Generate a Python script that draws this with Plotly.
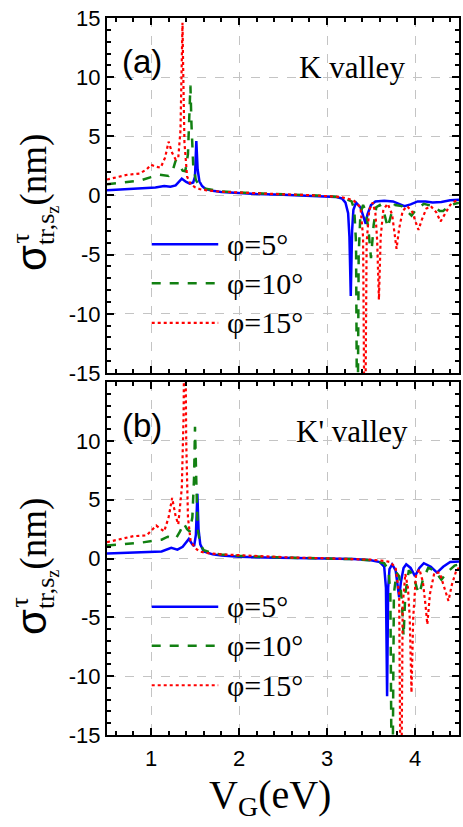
import plotly.graph_objects as go
from plotly.subplots import make_subplots

# ---- K valley (panel a) ----
ka_x5 = [0.5, 0.7, 0.9, 1.05, 1.15, 1.22, 1.28, 1.35, 1.40, 1.44, 1.48, 1.50, 1.515, 1.53, 1.55, 1.58,
         1.62, 1.7, 1.8, 2.0, 2.2, 2.5, 2.8, 3.0, 3.1, 3.17, 3.21, 3.24, 3.255, 3.27, 3.285, 3.30, 3.33,
         3.38, 3.42, 3.44, 3.46, 3.50, 3.55, 3.65, 3.75, 3.82, 3.88, 3.95, 4.03, 4.12, 4.2, 4.3, 4.4, 4.5]
ka_y5 = [0.45, 0.52, 0.6, 0.68, 0.8, 0.75, 0.85, 1.42, 1.15, 1.0, 1.1, 1.6, 4.6, 2.2, 1.2, 0.8,
         0.55, 0.4, 0.3, 0.2, 0.13, 0.07, 0.0, -0.05, -0.12, -0.25, -0.6, -1.5, -3.5, -8.5, -3.0, -1.2, -0.6,
         -1.0, -1.9, -2.4, -1.6, -0.8, -0.5, -0.45, -0.5, -0.7, -0.9, -0.75, -0.5, -0.5, -0.6, -0.55, -0.4, -0.35]

ka_x10 = [0.5, 0.7, 0.87, 1.0, 1.1, 1.2, 1.25, 1.28, 1.32, 1.36, 1.39, 1.42, 1.44, 1.448, 1.46, 1.48,
          1.51, 1.55, 1.6, 1.7, 1.8, 2.0, 2.2, 2.5, 2.8, 3.0, 3.1, 3.2, 3.28, 3.31, 3.33, 3.345, 3.36,
          3.38, 3.41, 3.44, 3.47, 3.50, 3.53, 3.56, 3.6, 3.65, 3.69, 3.73, 3.77, 3.85, 3.92, 3.96, 4.0,
          4.1, 4.2, 4.28, 4.32, 4.4, 4.5]
ka_y10 = [0.95, 1.1, 1.25, 1.55, 1.75, 1.65, 2.2, 2.95, 2.6, 2.1, 2.05, 3.5, 7.0, 9.3, 6.0, 2.5,
          1.3, 0.85, 0.6, 0.45, 0.35, 0.25, 0.17, 0.1, 0.03, -0.03, -0.1, -0.25, -0.5, -1.2, -4.0, -25.0, -5.0,
          -1.5, -0.8, -1.3, -2.8, -5.3, -2.5, -1.0, -0.8, -1.5, -2.7, -1.6, -0.8, -0.9, -1.4, -1.7, -1.3,
          -0.7, -0.9, -1.3, -1.3, -0.8, -0.6]

ka_x15 = [0.5, 0.6, 0.73, 0.87, 0.95, 1.0, 1.05, 1.11, 1.16, 1.2, 1.24, 1.28, 1.31, 1.335, 1.35, 1.358,
          1.365, 1.38, 1.41, 1.45, 1.5, 1.55, 1.65, 1.8, 2.0, 2.2, 2.5, 2.8, 3.0, 3.15, 3.25, 3.3, 3.38,
          3.41, 3.43, 3.45, 3.48, 3.52, 3.55, 3.57, 3.59, 3.61, 3.64, 3.69, 3.74, 3.77, 3.79, 3.82, 3.86,
          3.91, 3.97, 4.01, 4.04, 4.08, 4.13, 4.18, 4.24, 4.29, 4.34, 4.4, 4.45, 4.5]
ka_y15 = [1.35, 1.5, 1.75, 1.85, 2.2, 2.6, 2.45, 2.35, 3.2, 4.55, 3.6, 3.05, 3.2, 5.5, 11.0, 14.6,
          11.0, 4.5, 1.6, 0.95, 0.7, 0.55, 0.42, 0.32, 0.25, 0.17, 0.1, 0.03, -0.03, -0.12, -0.3, -0.4, -1.0,
          -3.5, -25.0, -4.0, -1.2, -0.6, -1.5, -3.8, -8.8, -3.5, -1.2, -0.7, -1.6, -3.2, -4.5, -2.8, -1.3,
          -0.9, -1.4, -2.3, -2.9, -2.0, -1.1, -0.9, -1.4, -2.2, -1.6, -0.8, -0.5, -0.4]

# ---- K' valley (panel b) ----
kb_x5 = [0.5, 0.8, 1.12, 1.23, 1.3, 1.36, 1.43, 1.47, 1.49, 1.51, 1.527, 1.54, 1.56, 1.6, 1.7, 1.8,
         2.0, 2.3, 2.6, 3.0, 3.3, 3.5, 3.6, 3.65, 3.67, 3.683, 3.695, 3.71, 3.74, 3.78, 3.81, 3.82, 3.84,
         3.87, 3.9, 3.95, 4.0, 4.05, 4.1, 4.18, 4.25, 4.32, 4.4, 4.5]
kb_y5 = [0.42, 0.5, 0.6, 0.9, 0.75, 1.0, 1.67, 1.2, 1.05, 2.0, 5.5, 2.5, 1.2, 0.6, 0.35, 0.25,
         0.15, 0.08, 0.04, 0.0, -0.05, -0.15, -0.3, -0.7, -2.5, -11.7, -2.5, -0.9, -0.5, -1.0, -2.5, -3.3, -2.0,
         -0.8, -0.5, -0.8, -1.5, -0.8, -0.4, -0.7, -1.2, -0.7, -0.3, -0.25]

kb_x10 = [0.5, 0.87, 1.12, 1.19, 1.28, 1.33, 1.37, 1.41, 1.44, 1.47, 1.49, 1.50, 1.515, 1.53, 1.56, 1.6,
          1.7, 1.8, 2.0, 2.3, 2.6, 3.0, 3.3, 3.5, 3.65, 3.7, 3.72, 3.74, 3.76, 3.79, 3.82, 3.85, 3.87,
          3.89, 3.93, 3.98, 4.02, 4.05, 4.09, 4.15, 4.22, 4.3, 4.36, 4.45, 4.5]
kb_y10 = [1.1, 1.33, 1.6, 1.85, 1.67, 2.3, 3.0, 2.5, 2.3, 3.5, 7.0, 11.2, 6.5, 2.5, 1.2, 0.7,
          0.45, 0.35, 0.22, 0.12, 0.06, 0.0, -0.05, -0.15, -0.4, -1.0, -3.0, -25.0, -3.0, -1.2, -1.5, -3.5, -6.6,
          -3.0, -1.0, -1.4, -2.5, -3.0, -1.8, -0.8, -1.0, -1.8, -1.2, -0.6, -0.5]

kb_x15 = [0.5, 0.8, 0.95, 1.06, 1.15, 1.2, 1.24, 1.28, 1.31, 1.35, 1.37, 1.385, 1.40, 1.42, 1.45, 1.5,
          1.55, 1.65, 1.8, 2.0, 2.3, 2.6, 3.0, 3.3, 3.5, 3.65, 3.72, 3.78, 3.82, 3.84, 3.86, 3.89, 3.92,
          3.94, 3.96, 3.98, 4.01, 4.05, 4.09, 4.12, 4.14, 4.17, 4.22, 4.28, 4.34, 4.38, 4.42, 4.47, 4.5]
kb_y15 = [1.39, 1.9, 1.96, 2.8, 2.3, 3.5, 5.15, 3.6, 2.9, 6.0, 12.0, 25.0, 10.0, 3.5, 1.5, 0.9,
          0.6, 0.45, 0.35, 0.27, 0.15, 0.08, 0.02, -0.03, -0.1, -0.2, -0.3, -0.8, -3.0, -25.0, -4.0, -1.3, -2.5,
          -5.0, -11.4, -5.0, -1.5, -0.9, -2.0, -4.0, -5.6, -3.0, -1.2, -1.2, -2.6, -3.6, -2.2, -1.0, -0.8]

series_names = ["φ=5°", "φ=10°", "φ=15°"]
series_colors = ["#0000ff", "#128012", "#ff0000"]
series_dash = ["solid", "dash", "dot"]
series_width = [2.5, 2.5, 2.2]

ya_ticks = [-15, -10, -5, 0, 5, 10, 15]
ya_ticktext = ["-15", "-10", "-5", "0", "5", "10", "15"]
yb_ticks = [-15, -10, -5, 0, 5, 10]
yb_ticktext = ["-15", "-10", "-5", "0", "5", "10"]
x_ticks = [1, 2, 3, 4]
x_ticktext = ["1", "2", "3", "4"]

panels = [
    [(ka_x5, ka_y5), (ka_x10, ka_y10), (ka_x15, ka_y15)],
    [(kb_x5, kb_y5), (kb_x10, kb_y10), (kb_x15, kb_y15)],
]
panel_tags = ["(a)", "(b)"]
panel_valleys = ["K valley", "K' valley"]

serif = "Liberation Serif"
sans = "Liberation Sans"

fig = make_subplots(rows=2, cols=1, shared_xaxes=True, vertical_spacing=0.012)

for row, panel in enumerate(panels, start=1):
    for i, (xs, ys) in enumerate(panel):
        fig.add_trace(
            go.Scatter(
                x=xs, y=ys, mode="lines", name=series_names[i], showlegend=False,
                line=dict(color=series_colors[i], dash=series_dash[i], width=series_width[i]),
            ),
            row=row, col=1,
        )

axis_common = dict(
    showline=True, linewidth=2, linecolor="black", mirror="ticks",
    ticks="inside", ticklen=7, tickwidth=2, tickcolor="black",
    showgrid=True, gridcolor="#c4c4c4", gridwidth=1, griddash="dash",
    zeroline=False,
    tickfont=dict(family=sans, size=22, color="black"),
)

for row, (tv, tt) in enumerate([(ya_ticks, ya_ticktext), (yb_ticks, yb_ticktext)], start=1):
    fig.update_yaxes(
        range=[-15, 15], tickmode="array", tickvals=tv, ticktext=tt,
        minor=dict(ticks="inside", dtick=1, tick0=0, ticklen=4, tickwidth=1.5, tickcolor="black", showgrid=False),
        **axis_common, row=row, col=1,
    )
    fig.update_xaxes(
        range=[0.5, 4.5], tickmode="array", tickvals=x_ticks, ticktext=x_ticktext,
        minor=dict(ticks="inside", dtick=0.2, tick0=0, ticklen=4, tickwidth=1.5, tickcolor="black", showgrid=False),
        ticklabelstandoff=3,
        **axis_common, row=row, col=1,
    )
fig.update_xaxes(showticklabels=False, row=1, col=1)
fig.update_yaxes(domain=[0.5049, 1.0], row=1, col=1)
fig.update_yaxes(domain=[0.0, 0.4923], row=2, col=1)

# y-axis title: σ with stacked τ (separate label) and subscript tr,s_z
ytitle = ('<span style="font-family:Liberation Sans;font-size:42px">σ</span>'
          '<sub>tr,s<sub>z</sub></sub>(nm)')


def label(text, x, y, family, size, angle=0, xref="paper", yref="paper", xanchor="center"):
    return dict(text=text, x=x, y=y, xref=xref, yref=yref, showarrow=False,
                xanchor=xanchor, yanchor="middle", textangle=angle,
                font=dict(family=family, size=size, color="black"))


annotations = [
    label(ytitle, -0.2034, 0.7427, serif, 37, -90),
    label("τ", -0.2458, 0.6932, serif, 26, -90),
    label(ytitle, -0.2034, 0.235, serif, 37, -90),
    label("τ", -0.2458, 0.1855, serif, 26, -90),
    label("V<sub>G</sub>(eV)", 0.463, -0.0865, serif, 40),
]
shapes = []

# in-panel labels and legend, placed in each subplot's domain fractions
legend_rows = [0.363, 0.2525, 0.141]
for row in (1, 2):
    xd = "x domain" if row == 1 else "x2 domain"
    yd = "y domain" if row == 1 else "y2 domain"
    annotations.append(label(panel_tags[row - 1], 0.099, 0.877, sans, 33, xref=xd, yref=yd))
    annotations.append(label(panel_valleys[row - 1], 0.695, 0.86, serif, 31, xref=xd, yref=yd))
    for i, ly in enumerate(legend_rows):
        shapes.append(dict(type="line", xref=xd, yref=yd, x0=0.127, x1=0.316, y0=ly, y1=ly,
                           line=dict(color=series_colors[i], dash=series_dash[i], width=series_width[i])))
        annotations.append(label(series_names[i], 0.335, ly, serif, 30, xref=xd, yref=yd, xanchor="left"))

fig.update_layout(
    width=463, height=827,
    margin=dict(l=107, r=2, t=18, b=92),
    paper_bgcolor="white", plot_bgcolor="white",
    font=dict(family=serif, color="black"),
    showlegend=False,
    annotations=annotations,
    shapes=shapes,
)

fig.write_html("out.html")
